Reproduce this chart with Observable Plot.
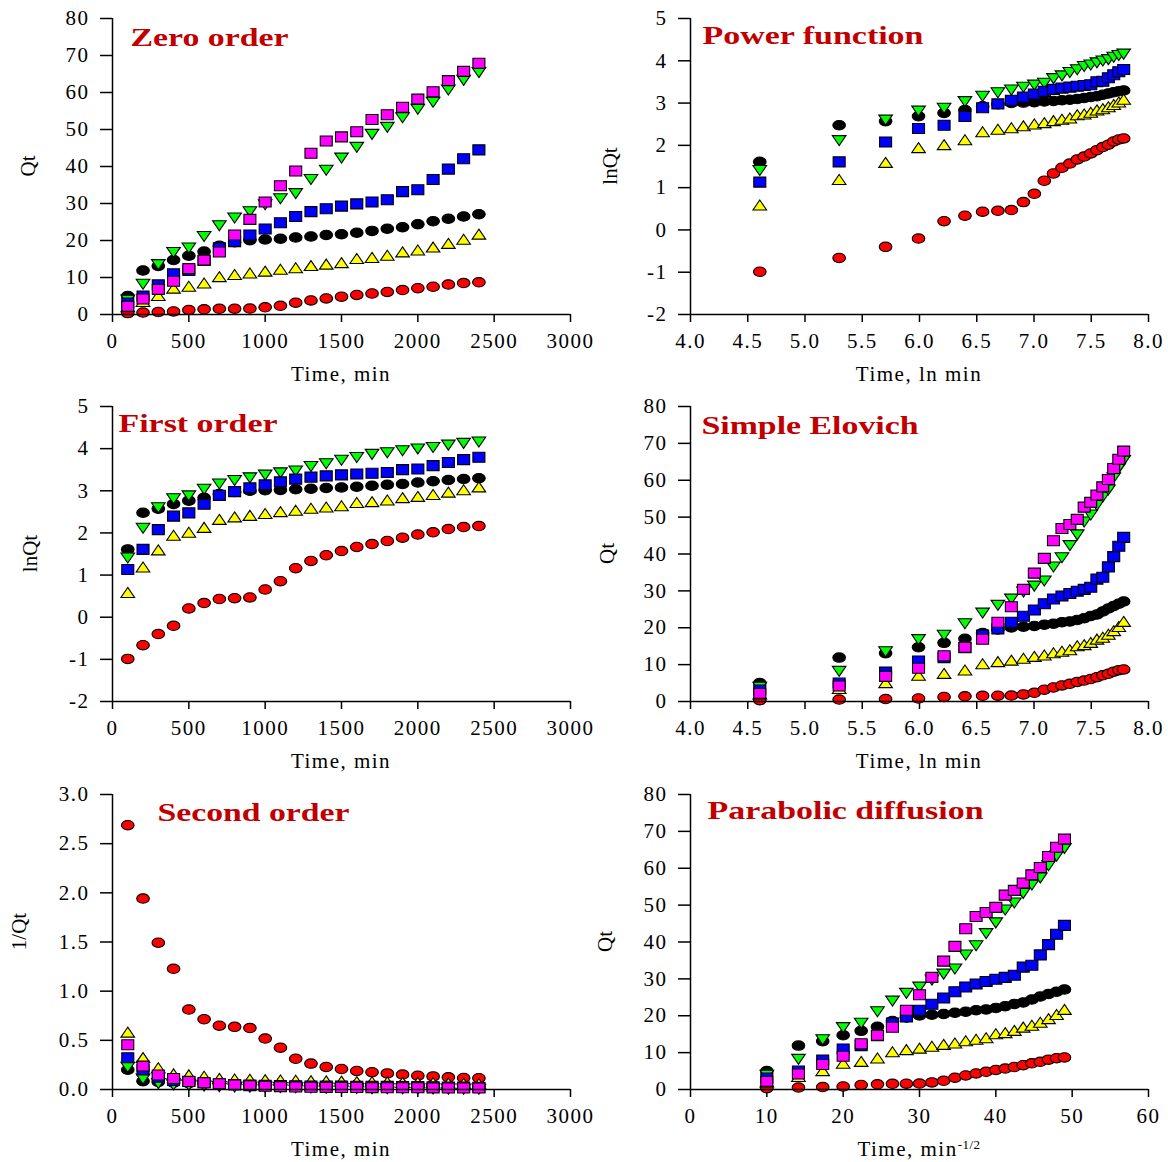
<!DOCTYPE html>
<html><head><meta charset="utf-8">
<script src="https://cdn.jsdelivr.net/npm/d3@7"></script>
<script src="https://cdn.jsdelivr.net/npm/@observablehq/plot@0.6"></script>
<style>
body{margin:0;background:#fff;}
#chart{position:relative;width:1168px;height:1162px;background:#fff;overflow:hidden;}
#chart svg{position:absolute;overflow:visible;}
</style></head><body><div id="chart"></div>
<script>
// ---- data ----
const time = [100,200,300,400,500,600,700,800,900,1000,1100,1200,1300,1400,1500,1600,1700,1800,1900,2000,2100,2200,2300,2400];
const qBlack   = [5.0,11.9,13.1,14.7,15.9,17.0,18.6,19.5,20.1,20.3,20.5,20.8,21.1,21.5,21.7,22.1,22.6,23.2,23.6,24.4,25.2,25.9,26.5,27.1];
const qRed     = [0.372,0.515,0.67,0.815,1.23,1.40,1.54,1.57,1.60,1.93,2.35,3.2,3.8,4.35,4.8,5.3,5.67,6.1,6.6,7.1,7.5,8.1,8.5,8.7];
const qYellow  = [1.75,3.2,4.8,6.8,7.3,8.2,9.9,10.5,10.9,11.4,11.9,12.3,12.9,13.3,13.7,14.8,15.1,15.7,16.6,17.1,17.9,18.9,20.0,21.4];
const qGreen   = [4.2,8.5,13.8,17.1,18.3,21.4,24.3,26.4,28.1,30.0,31.6,33.0,36.8,39.3,42.6,45.5,49.0,50.9,53.5,55.8,57.7,61.0,63.6,65.7];
const qBlue    = [3.1,5.0,8.0,11.0,11.9,14.6,18.0,19.7,21.5,23.1,24.8,26.5,27.8,28.6,29.3,29.9,30.4,31.0,33.2,33.7,36.5,39.3,42.1,44.5];
const qMagenta = [2.2,4.2,6.8,9.0,12.4,14.7,16.9,21.5,25.7,30.4,34.8,38.8,43.6,46.9,48.0,49.4,52.7,54.0,56.0,58.2,60.2,63.2,65.7,67.9];

const panelTitles = ["Zero order","Power function","First order","Simple Elovich","Second order","Parabolic diffusion"];
const xTicksTime = [0,500,1000,1500,2000,2500,3000];
const xTicksLn = [4.0,4.5,5.0,5.5,6.0,6.5,7.0,7.5,8.0];
const xTicksSqrt = [0,10,20,30,40,50,60];
const yTicksQ = [0,10,20,30,40,50,60,70,80];
const yTicksLnQ = [-2,-1,0,1,2,3,4,5];
const yTicksInv = [0,0.5,1.0,1.5,2.0,2.5,3.0];

// ---- marker symbols (slightly wide, as in the reference) ----
function ellipseSym(rx, ry) {
  return {draw(c) {
    const k = 0.5523;
    c.moveTo(rx, 0);
    c.bezierCurveTo(rx, ry*k, rx*k, ry, 0, ry);
    c.bezierCurveTo(-rx*k, ry, -rx, ry*k, -rx, 0);
    c.bezierCurveTo(-rx, -ry*k, -rx*k, -ry, 0, -ry);
    c.bezierCurveTo(rx*k, -ry, rx, -ry*k, rx, 0);
    c.closePath();
  }};
}
function rectSym(hw, hh) {
  return {draw(c) { c.moveTo(-hw,-hh); c.lineTo(hw,-hh); c.lineTo(hw,hh); c.lineTo(-hw,hh); c.closePath(); }};
}
function triSym(hw, h, up) {
  const s = up ? 1 : -1;
  return {draw(c) { c.moveTo(0, -s*h*0.62); c.lineTo(hw, s*h*0.38); c.lineTo(-hw, s*h*0.38); c.closePath(); }};
}
const series = [
  {key:"black",   q:qBlack,   fill:"#000000", symbol:ellipseSym(6.3,4.7)},
  {key:"red",     q:qRed,     fill:"#ff0000", symbol:ellipseSym(6.3,4.7)},
  {key:"yellow",  q:qYellow,  fill:"#ffff00", symbol:triSym(6.8,10,true)},
  {key:"green",   q:qGreen,   fill:"#00ff00", symbol:triSym(6.8,10,false)},
  {key:"blue",    q:qBlue,    fill:"#0000ff", symbol:rectSym(6,5)},
  {key:"magenta", q:qMagenta, fill:"#ff00ff", symbol:rectSym(6,5)}
];
const rows = series.flatMap(s => time.map((t, i) => ({key: s.key, t, q: s.q[i]})));

const xf = {t: d => d.t, ln: d => Math.log(d.t), sqrt: d => Math.sqrt(d.t)};
const yf = {q: d => d.q, ln: d => Math.log(d.q), inv: d => 1 / d.q};

const panels = [
  {col:0,row:0,title:panelTitles[0],tw:158,x:"t",y:"q",xd:[0,3000],xt:xTicksTime,xfmt:d=>String(d),yd:[0,80],yt:yTicksQ,yfmt:d=>String(d),keys:["black","red","yellow","green","blue","magenta"],xl:"Time, min",yl:"Qt",tx:130,ty:45,ylx:28},
  {col:1,row:0,title:panelTitles[1],tw:221,x:"ln",y:"ln",xd:[4,8],xt:xTicksLn,xfmt:d3.format(".1f"),yd:[-2,5],yt:yTicksLnQ,yfmt:d=>String(d),keys:["black","red","yellow","green","blue"],xl:"Time, ln min",yl:"lnQt",tx:118,ty:43,ylx:26},
  {col:0,row:1,title:panelTitles[2],tw:159,x:"t",y:"ln",xd:[0,3000],xt:xTicksTime,xfmt:d=>String(d),yd:[-2,5],yt:yTicksLnQ,yfmt:d=>String(d),keys:["black","red","yellow","green","blue"],xl:"Time, min",yl:"lnQt",tx:118,ty:44,ylx:30},
  {col:1,row:1,title:panelTitles[3],tw:217,x:"ln",y:"q",xd:[4,8],xt:xTicksLn,xfmt:d3.format(".1f"),yd:[0,80],yt:yTicksQ,yfmt:d=>String(d),keys:["black","red","yellow","green","blue","magenta"],xl:"Time, ln min",yl:"Qt",tx:117,ty:46,ylx:23},
  {col:0,row:2,title:panelTitles[4],tw:192,x:"t",y:"inv",xd:[0,3000],xt:xTicksTime,xfmt:d=>String(d),yd:[0,3],yt:yTicksInv,yfmt:d3.format(".1f"),keys:["black","red","yellow","green","blue","magenta"],xl:"Time, min",yl:"1/Qt",tx:157,ty:45,ylx:19,yly:-10},
  {col:1,row:2,title:panelTitles[5],tw:276,x:"sqrt",y:"q",xd:[0,60],xt:xTicksSqrt,xfmt:d=>String(d),yd:[0,80],yt:yTicksQ,yfmt:d=>String(d),keys:["black","red","yellow","green","blue","magenta"],xl:"Time, min",sup:"-1/2",yl:"Qt",tx:123,ty:43,ylx:21}
];

const W = 584, H = 387;
const rowTop = [0, 387, 775];
const FONT = "'Liberation Serif','Times New Roman',Times,serif";
const chart = document.getElementById("chart");

for (const p of panels) {
  const mL = p.col === 0 ? 112 : 106;
  const mR = p.col === 0 ? 14 : 20;
  const mT = p.row === 0 ? 18 : 19;
  const mB = 73;
  const marks = [];
  for (const s of series) {
    if (!p.keys.includes(s.key)) continue;
    marks.push(Plot.dot(rows.filter(d => d.key === s.key), {
      x: xf[p.x], y: yf[p.y], symbol: s.symbol, r: 6,
      fill: s.fill, stroke: "#000", strokeWidth: 1.1
    }));
  }
  marks.push(Plot.ruleX([p.xd[0]], {stroke: "#000", strokeWidth: 1.5}));
  marks.push(Plot.ruleY([p.yd[0]], {stroke: "#000", strokeWidth: 1.5}));
  marks.push(Plot.text([p.title], {
    frameAnchor: "top-left", textAnchor: "start", lineAnchor: "bottom",
    dx: p.tx - mL, dy: p.ty - mT, fill: "#c00000", fontSize: 25, fontWeight: "bold"
  }));
  const svg = Plot.plot({
    width: W, height: H,
    marginLeft: mL, marginRight: mR, marginTop: mT, marginBottom: mB,
    style: {fontFamily: FONT, fontSize: "21px", background: "transparent", color: "#000", overflow: "visible"},
    x: {domain: p.xd, ticks: p.xt, tickFormat: p.xfmt, tickSize: 8, tickPadding: 11, label: null},
    y: {domain: p.yd, ticks: p.yt, tickFormat: p.yfmt, tickSize: 12, tickPadding: 11, label: null},
    marks
  });
  svg.style.left = (p.col * W) + "px";
  svg.style.top = rowTop[p.row] + "px";
  const s = d3.select(svg);
  s.selectAll("g[aria-label='x-axis tick label'] text, g[aria-label='y-axis tick label'] text, g[aria-label='x-axis'] text, g[aria-label='y-axis'] text")
    .attr("letter-spacing", "1.5px");
  s.selectAll("g[aria-label='x-axis tick'], g[aria-label='y-axis tick'], g[aria-label='x-axis'] , g[aria-label='y-axis']")
    .attr("stroke-width", 1.5);
  // widen the bold panel titles to the reference width
  s.selectAll("g[aria-label='text'] text")
    .attr("textLength", p.tw).attr("lengthAdjust", "spacingAndGlyphs");
  // axis titles
  const cx = (mL + (W - mR)) / 2;
  const xl = s.append("text").attr("x", cx).attr("y", 381).attr("text-anchor", "middle")
    .attr("font-family", FONT).attr("font-size", 21).attr("letter-spacing", "1.5px").attr("fill", "#000").text(p.xl);
  if (p.sup) xl.append("tspan").attr("baseline-shift", "super").attr("font-size", 13).attr("letter-spacing", "0.5px").text(p.sup);
  const cy = (mT + (H - mB)) / 2 + (p.yly || 0);
  s.append("text").attr("transform", `translate(${p.ylx + 7},${cy}) rotate(-90)`).attr("text-anchor", "middle")
    .attr("font-family", FONT).attr("font-size", 21).attr("fill", "#000").text(p.yl);
  chart.appendChild(svg);
}
</script></body></html>
